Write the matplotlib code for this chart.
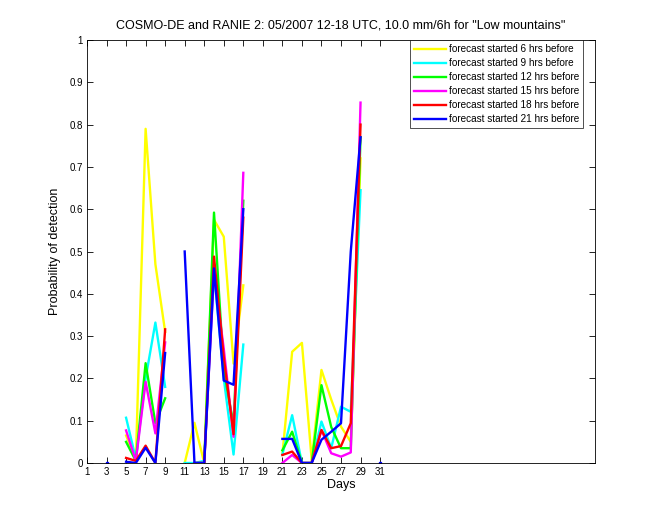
import numpy as np
import matplotlib
matplotlib.use("Agg")
import matplotlib.pyplot as plt

nan = np.nan
days = list(range(1, 32))

# values per day 1..31 (nan = no data)
def series(d):
    arr = [nan] * 31
    for k, v in d.items():
        arr[k - 1] = v
    return arr

hrs6 = series({5: 0.065, 6: 0.007, 7: 0.79, 8: 0.47, 9: 0.31,
               11: 0.0, 12: 0.095, 13: 0.0, 14: 0.575, 15: 0.535, 16: 0.235, 17: 0.42,
               21: 0.02, 22: 0.263, 23: 0.284, 24: 0.007, 25: 0.22, 26: 0.15, 27: 0.086, 28: 0.05, 29: 0.72})
hrs9 = series({5: 0.107, 6: 0.01, 7: 0.2, 8: 0.332, 9: 0.18,
               11: 0.0, 12: 0.0, 13: 0.005, 14: 0.45, 15: 0.2, 16: 0.02, 17: 0.28,
               21: 0.02, 22: 0.113, 23: 0.0, 24: 0.0, 25: 0.098, 26: 0.035, 27: 0.133, 28: 0.121, 29: 0.645})
hrs12 = series({5: 0.05, 6: 0.005, 7: 0.236, 8: 0.094, 9: 0.153,
                12: 0.0, 13: 0.0, 14: 0.592, 15: 0.22, 16: 0.09, 17: 0.62,
                21: 0.03, 22: 0.074, 23: 0.0, 24: 0.0, 25: 0.184, 26: 0.085, 27: 0.035, 28: 0.035, 29: 0.77})
hrs15 = series({5: 0.077, 6: 0.005, 7: 0.192, 8: 0.07, 9: 0.285,
                12: 0.0, 13: 0.0, 14: 0.45, 15: 0.27, 16: 0.062, 17: 0.686,
                21: 0.0, 22: 0.019, 23: 0.0, 24: 0.0, 25: 0.078, 26: 0.023, 27: 0.015, 28: 0.025, 29: 0.852})
hrs18 = series({5: 0.012, 6: 0.005, 7: 0.041, 8: 0.0, 9: 0.316,
                12: 0.0, 13: 0.0, 14: 0.488, 15: 0.25, 16: 0.068, 17: 0.58,
                21: 0.019, 22: 0.027, 23: 0.0, 24: 0.0, 25: 0.078, 26: 0.035, 27: 0.04, 28: 0.094, 29: 0.80})
hrs21 = series({3: 0.0, 5: 0.003, 6: 0.0, 7: 0.036, 8: 0.0, 9: 0.26,
                11: 0.50, 12: 0.0, 13: 0.0, 14: 0.46, 15: 0.195, 16: 0.185, 17: 0.60,
                21: 0.057, 22: 0.057, 23: 0.0, 24: 0.0, 25: 0.055, 26: 0.074, 27: 0.094, 28: 0.50, 29: 0.77,
                31: 0.0})

labels = ["forecast started 6 hrs before", "forecast started 9 hrs before",
          "forecast started 12 hrs before", "forecast started 15 hrs before",
          "forecast started 18 hrs before", "forecast started 21 hrs before"]
colors = ["#ffff00", "#00ffff", "#00ff00", "#ff00ff", "#ff0000", "#0000ff"]
all_series = [hrs6, hrs9, hrs12, hrs15, hrs18, hrs21]

xticks = list(range(1, 32, 2))
yticks = [0, 0.1, 0.2, 0.3, 0.4, 0.5, 0.6, 0.7, 0.8, 0.9, 1]
yticklabels = ["0", "0.1", "0.2", "0.3", "0.4", "0.5", "0.6", "0.7", "0.8", "0.9", "1"]

plt.rcParams['font.family'] = ['Liberation Sans', 'DejaVu Sans']

fig = plt.figure(figsize=(6.6, 5.2), dpi=100)
ax = fig.add_axes([87/660, 1 - 463/520, (595 - 87)/660, (463 - 40)/520])

x = np.array(days, dtype=float)
for s, c, lab in zip(all_series, colors, labels):
    y = np.array(s, dtype=float)
    ax.plot(x, y, color=c, lw=1.7, label=lab)
    # isolated points
    for i in range(len(y)):
        if not np.isnan(y[i]):
            left = i == 0 or np.isnan(y[i - 1])
            right = i == len(y) - 1 or np.isnan(y[i + 1])
            if left and right:
                ax.plot([x[i]], [y[i]], marker='s', ms=2, color=c, lw=0)

ax.set_xlim(1, 53)
ax.set_ylim(0, 1)
ax.set_xticks(xticks)
ax.set_xticklabels([str(t) for t in xticks], fontsize=7)
ax.set_yticks(yticks)
ax.set_yticklabels(yticklabels, fontsize=7)
ax.tick_params(direction='in', length=4, width=0.6, top=True, right=True, pad=3)
for sp in ax.spines.values():
    sp.set_linewidth(0.6)

ax.set_xlabel("Days", fontsize=9, labelpad=1)
ax.set_ylabel("Probability of detection", fontsize=9, labelpad=6)
ax.set_title('COSMO-DE and RANIE 2: 05/2007 12-18 UTC, 10.0 mm/6h for "Low mountains"',
             fontsize=9, pad=8)

leg = ax.legend(loc='upper right', fontsize=7.2, frameon=True, fancybox=False,
                edgecolor='black', handlelength=3.2, handletextpad=0.3,
                borderpad=0.4, labelspacing=0.4, borderaxespad=0.0)
leg.get_frame().set_linewidth(0.6)
leg.set_bbox_to_anchor((583/660, 1 - 40/520), transform=fig.transFigure)

fig.savefig("out.png", dpi=100)
